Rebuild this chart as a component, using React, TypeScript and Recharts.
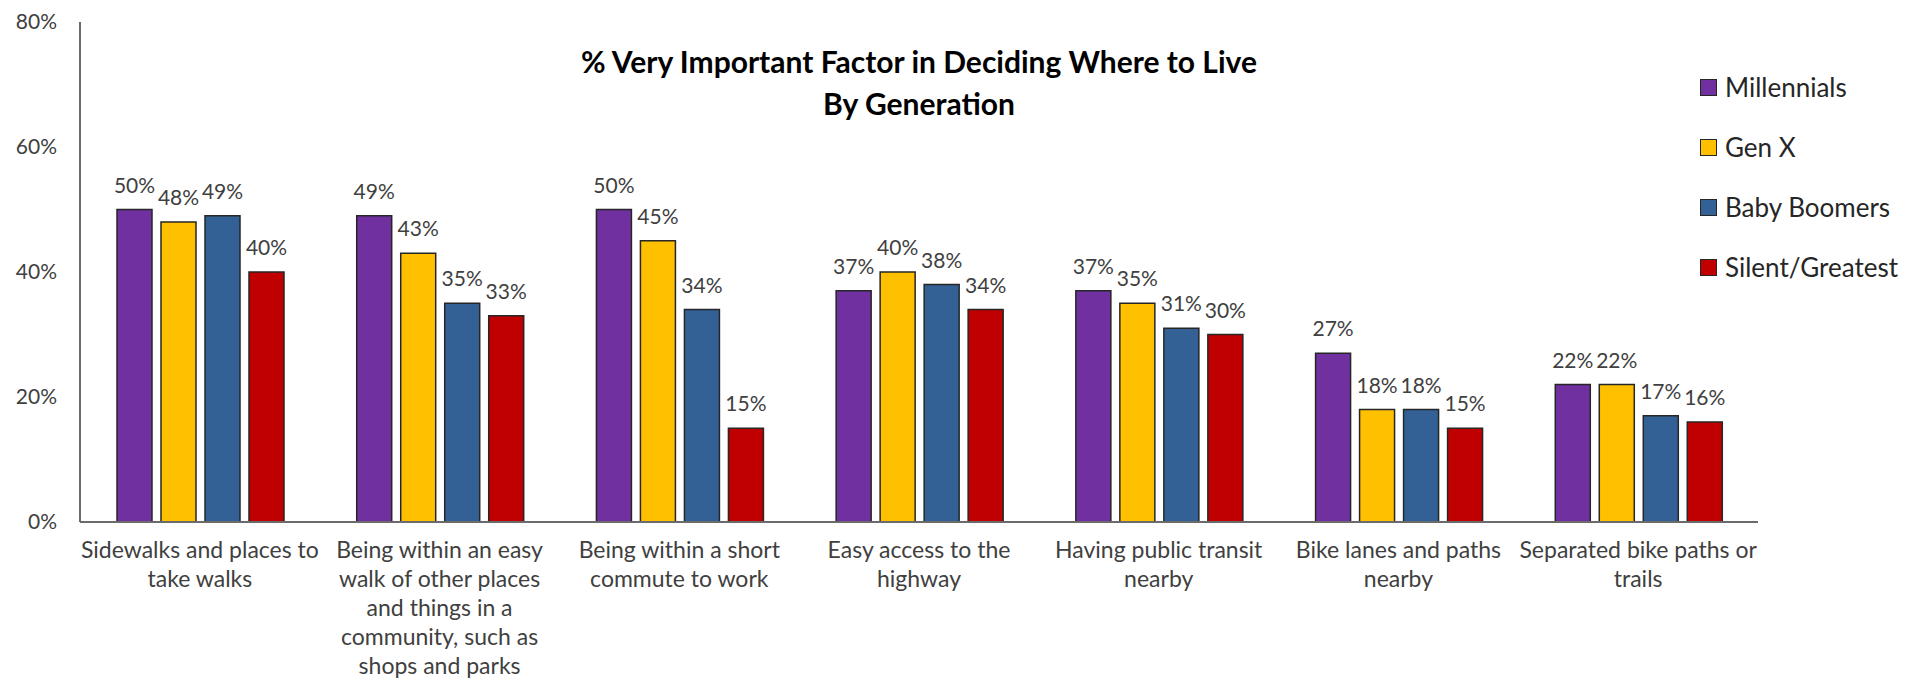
import React from 'react';
import { BarChart, Bar, XAxis, YAxis, Legend, LabelList } from 'recharts';

const categories = [
  'Sidewalks and places to\ntake walks',
  'Being within an easy\nwalk of other places\nand things in a\ncommunity, such as\nshops and parks',
  'Being within a short\ncommute to work',
  'Easy access to the\nhighway',
  'Having public transit\nnearby',
  'Bike lanes and paths\nnearby',
  'Separated bike paths or\ntrails',
];
const millennials = [50, 49, 50, 37, 37, 27, 22];
const genX = [48, 43, 45, 40, 35, 18, 22];
const boomers = [49, 35, 34, 38, 31, 18, 17];
const silent = [40, 33, 15, 34, 30, 15, 16];
const yTicks = [0, 20, 40, 60, 80];

const series = [
  { key: 'millennials', name: 'Millennials', color: '#7030A0' },
  { key: 'genX', name: 'Gen X', color: '#FFC000' },
  { key: 'boomers', name: 'Baby Boomers', color: '#336195' },
  { key: 'silent', name: 'Silent/Greatest', color: '#C00000' },
];

const data = categories.map((c, i) => ({
  category: c,
  millennials: millennials[i],
  genX: genX[i],
  boomers: boomers[i],
  silent: silent[i],
}));

const FONT = 'Lato, "Open Sans", sans-serif';
const TEXT = '#404040';

function CategoryTick({ x, y, payload }: any) {
  const lines = String(payload.value).split('\n');
  return (
    <g transform={`translate(${x},${y})`}>
      <text textAnchor="middle" fill={TEXT} fontSize={23} fontFamily={FONT}>
        {lines.map((l, i) => (
          <tspan key={i} x={0} dy={i === 0 ? 34 : 29}>
            {l}
          </tspan>
        ))}
      </text>
    </g>
  );
}

function GenLegend() {
  return (
    <div style={{ fontFamily: FONT, fontSize: 26, color: '#262626' }}>
      {series.map((s) => (
        <div key={s.key} style={{ display: 'flex', alignItems: 'center', height: 60 }}>
          <span
            style={{
              width: 15,
              height: 15,
              background: s.color,
              border: '1px solid #262626',
              marginRight: 8,
              display: 'inline-block',
            }}
          />
          {s.name}
        </div>
      ))}
    </div>
  );
}

export default function App() {
  return (
    <div style={{ position: 'absolute', left: 0, top: 0, width: 1905, height: 682, background: '#fff' }}>
      <div
        style={{
          position: 'absolute',
          left: 569,
          top: 40,
          width: 700,
          textAlign: 'center',
          fontFamily: FONT,
          fontWeight: 'bold',
          fontSize: 30,
          lineHeight: '42px',
          color: '#000',
          zIndex: 2,
        }}
      >
        % Very Important Factor in Deciding Where to Live
        <br />
        By Generation
      </div>
      <BarChart
        width={1905}
        height={682}
        data={data}
        margin={{ top: 22, right: 147, bottom: 10, left: 0 }}
        barCategoryGap={37}
        barGap={9}
      >
        <XAxis
          dataKey="category"
          tick={<CategoryTick />}
          tickLine={false}
          tickSize={0}
          interval={0}
          height={150}
          axisLine={{ stroke: '#6b6b6b', strokeWidth: 2 }}
        />
        <YAxis
          domain={[0, 80]}
          ticks={yTicks}
          tickFormatter={(v) => `${v}%`}
          tickLine={false}
          tickSize={0}
          tickMargin={23}
          width={80}
          axisLine={{ stroke: '#6b6b6b', strokeWidth: 2 }}
          tick={{ fill: TEXT, fontSize: 21, fontFamily: FONT }}
        />
        <Legend
          layout="vertical"
          align="center"
          verticalAlign="middle"
          content={<GenLegend />}
          wrapperStyle={{ left: 1700, top: 57, width: 205, height: 240 }}
        />
        {series.map((s) => (
          <Bar
            key={s.key}
            dataKey={s.key}
            name={s.name}
            fill={s.color}
            stroke="#262626"
            strokeWidth={1.5}
            isAnimationActive={false}
          >
            <LabelList
              dataKey={s.key}
              position="top"
              offset={17}
              formatter={(v: any) => `${v}%`}
              fill={TEXT}
              fontSize={21}
              fontFamily={FONT}
            />
          </Bar>
        ))}
      </BarChart>
    </div>
  );
}
